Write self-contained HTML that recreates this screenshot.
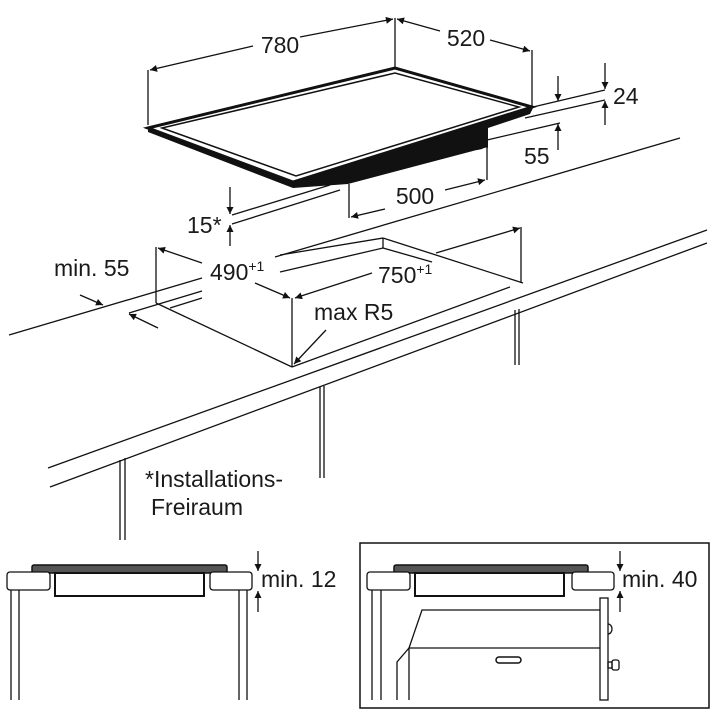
<!DOCTYPE html>
<html><head><meta charset="utf-8"><style>
html,body{margin:0;padding:0;background:#fff}
svg{display:block}
text{font-family:"Liberation Sans",Arial,sans-serif;fill:#1a1a1a}
</style></head><body>
<svg width="720" height="720" viewBox="0 0 720 720" xmlns="http://www.w3.org/2000/svg">
<defs>
<marker id="a" viewBox="0 0 10 10" refX="10" refY="5" markerWidth="9" markerHeight="7" orient="auto-start-reverse" markerUnits="userSpaceOnUse"><path d="M0,0L10,5L0,10z" fill="#111"/></marker>
</defs>
<g stroke="#111" fill="none" stroke-width="1.3">
<!-- hob -->
<polygon points="293,188 348,184 488,147 488,128 530,114 533,108 293,182 148,128 148,132" fill="#111" stroke="none"/>
<polygon points="148,128 395,68 532,107 293,182" fill="#fff" stroke="#111" stroke-width="3"/>
<polygon points="162,128 395,73 519,107 296,176" fill="none" stroke="#111" stroke-width="1.5"/>
<line x1="330" y1="181" x2="488" y2="147" stroke-dasharray="6,4"/>
<!-- 780 / 520 -->
<line x1="148" y1="125" x2="148" y2="70"/>
<line x1="395" y1="68" x2="395" y2="18"/>
<line x1="532" y1="107" x2="532" y2="50"/>
<line x1="253" y1="46" x2="150" y2="70" marker-end="url(#a)"/>
<line x1="300" y1="37" x2="393" y2="19" marker-end="url(#a)"/>
<line x1="440" y1="31" x2="397" y2="19" marker-end="url(#a)"/>
<line x1="490" y1="40" x2="530" y2="51" marker-end="url(#a)"/>
<!-- 24 / 55 -->
<line x1="533" y1="107" x2="605" y2="90"/>
<line x1="525" y1="118" x2="605" y2="100"/>
<line x1="487" y1="140" x2="560" y2="123"/>
<line x1="558" y1="76" x2="558" y2="101" marker-end="url(#a)"/>
<line x1="605" y1="63" x2="605" y2="89" marker-end="url(#a)"/>
<line x1="605" y1="125" x2="605" y2="101" marker-end="url(#a)"/>
<line x1="558" y1="150" x2="558" y2="124" marker-end="url(#a)"/>
<!-- 500 -->
<line x1="349" y1="184" x2="349" y2="218"/>
<line x1="487" y1="147" x2="487" y2="180"/>
<line x1="385" y1="209" x2="351" y2="217" marker-end="url(#a)"/>
<line x1="445" y1="190" x2="485" y2="180" marker-end="url(#a)"/>
<!-- 15* -->
<line x1="232" y1="215" x2="330" y2="185"/>
<line x1="232" y1="224" x2="340" y2="190"/>
<line x1="230" y1="187" x2="230" y2="214" marker-end="url(#a)"/>
<line x1="230" y1="246" x2="230" y2="225" marker-end="url(#a)"/>
<!-- worktop back edge -->
<polyline points="9,335 202,278"/>
<polyline points="275,257 680,138"/>
<line x1="129" y1="313" x2="202" y2="291"/>
<line x1="170" y1="308" x2="202" y2="298"/>
<!-- cutout -->
<line x1="156" y1="247" x2="156" y2="303"/>
<line x1="156" y1="303" x2="292" y2="367"/>
<line x1="292" y1="367" x2="510" y2="287"/>
<line x1="383" y1="238" x2="523" y2="283"/>
<line x1="383" y1="238" x2="383" y2="248"/>
<line x1="383" y1="238" x2="280" y2="255"/>
<line x1="383" y1="248" x2="280" y2="272"/>
<line x1="383" y1="248" x2="432" y2="262"/>
<line x1="521" y1="227" x2="521" y2="283"/>
<line x1="292" y1="298" x2="292" y2="367"/>
<!-- 490 / 750 -->
<line x1="202" y1="263" x2="158" y2="248" marker-end="url(#a)"/>
<line x1="255" y1="283" x2="290" y2="298" marker-end="url(#a)"/>
<line x1="372" y1="273" x2="295" y2="298" marker-end="url(#a)"/>
<line x1="436" y1="253" x2="520" y2="228" marker-end="url(#a)"/>
<!-- min 55 arrows -->
<line x1="80" y1="295" x2="103" y2="305" marker-end="url(#a)"/>
<line x1="158" y1="328" x2="129" y2="314" marker-end="url(#a)"/>
<!-- max R5 -->
<line x1="326" y1="330" x2="294" y2="364" marker-end="url(#a)"/>
<!-- worktop front -->
<line x1="48" y1="468" x2="707" y2="230"/>
<line x1="50" y1="487" x2="707" y2="243"/>
<!-- legs -->
<line x1="515" y1="310" x2="515" y2="365"/><line x1="519" y1="309" x2="519" y2="365"/>
<line x1="320" y1="387" x2="320" y2="478"/><line x1="324" y1="386" x2="324" y2="478"/>
<line x1="120" y1="460" x2="120" y2="540"/><line x1="125" y1="458" x2="125" y2="540"/>

<!-- bottom left -->
<rect x="32" y="565" width="195" height="8" rx="2" fill="#555" stroke="#111" stroke-width="1.5"/>
<rect x="55" y="573" width="149" height="23" stroke-width="2"/>
<rect x="7" y="572" width="43" height="18" rx="3" fill="#fff"/>
<rect x="210" y="572" width="42" height="18" rx="3" fill="#fff"/>
<line x1="11" y1="590" x2="11" y2="700"/><line x1="19" y1="590" x2="19" y2="700"/>
<line x1="239" y1="590" x2="239" y2="700"/><line x1="247" y1="590" x2="247" y2="700"/>
<line x1="258" y1="551" x2="258" y2="571" marker-end="url(#a)"/>
<line x1="258" y1="612" x2="258" y2="591" marker-end="url(#a)"/>

<!-- bottom right -->
<rect x="360" y="543" width="349" height="165" stroke-width="1.5"/>
<rect x="394" y="565" width="194" height="8" rx="2" fill="#555" stroke="#111" stroke-width="1.5"/>
<rect x="415" y="573" width="149" height="23" stroke-width="2"/>
<rect x="367" y="572" width="43" height="18" rx="3" fill="#fff"/>
<rect x="572" y="572" width="42" height="18" rx="3" fill="#fff"/>
<line x1="372" y1="590" x2="372" y2="700"/><line x1="381" y1="590" x2="381" y2="700"/>
<line x1="620" y1="551" x2="620" y2="571" marker-end="url(#a)"/>
<line x1="620" y1="612" x2="620" y2="591" marker-end="url(#a)"/>
<polyline points="601,610 422,610 409,648 601,648"/>
<polyline points="409,648 397,662 397,700"/>
<line x1="409" y1="648" x2="409" y2="700"/>
<rect x="600" y="598" width="8" height="102" fill="#fff"/>
<path d="M608,624 a4,5 0 0 1 0,10"/>
<rect x="608" y="662" width="4" height="6"/>
<rect x="612" y="660" width="7" height="10" rx="2"/>
<rect x="496" y="657" width="25" height="6" rx="3" stroke-width="1.5"/>
</g>
<g font-size="23">
<text x="280" y="53" text-anchor="middle">780</text>
<text x="466" y="46" text-anchor="middle">520</text>
<text x="613" y="104">24</text>
<text x="524" y="164">55</text>
<text x="415" y="204" text-anchor="middle">500</text>
<text x="187" y="233">15*</text>
<text x="54" y="276">min. 55</text>
<text x="210" y="280">490<tspan font-size="14" dy="-9">+1</tspan></text>
<text x="378" y="283">750<tspan font-size="14" dy="-9">+1</tspan></text>
<text x="314" y="320">max R5</text>
<text x="145" y="487">*Installations-</text>
<text x="151" y="515">Freiraum</text>
<text x="261" y="587">min. 12</text>
<text x="622" y="587">min. 40</text>
</g>
</svg>
</body></html>
